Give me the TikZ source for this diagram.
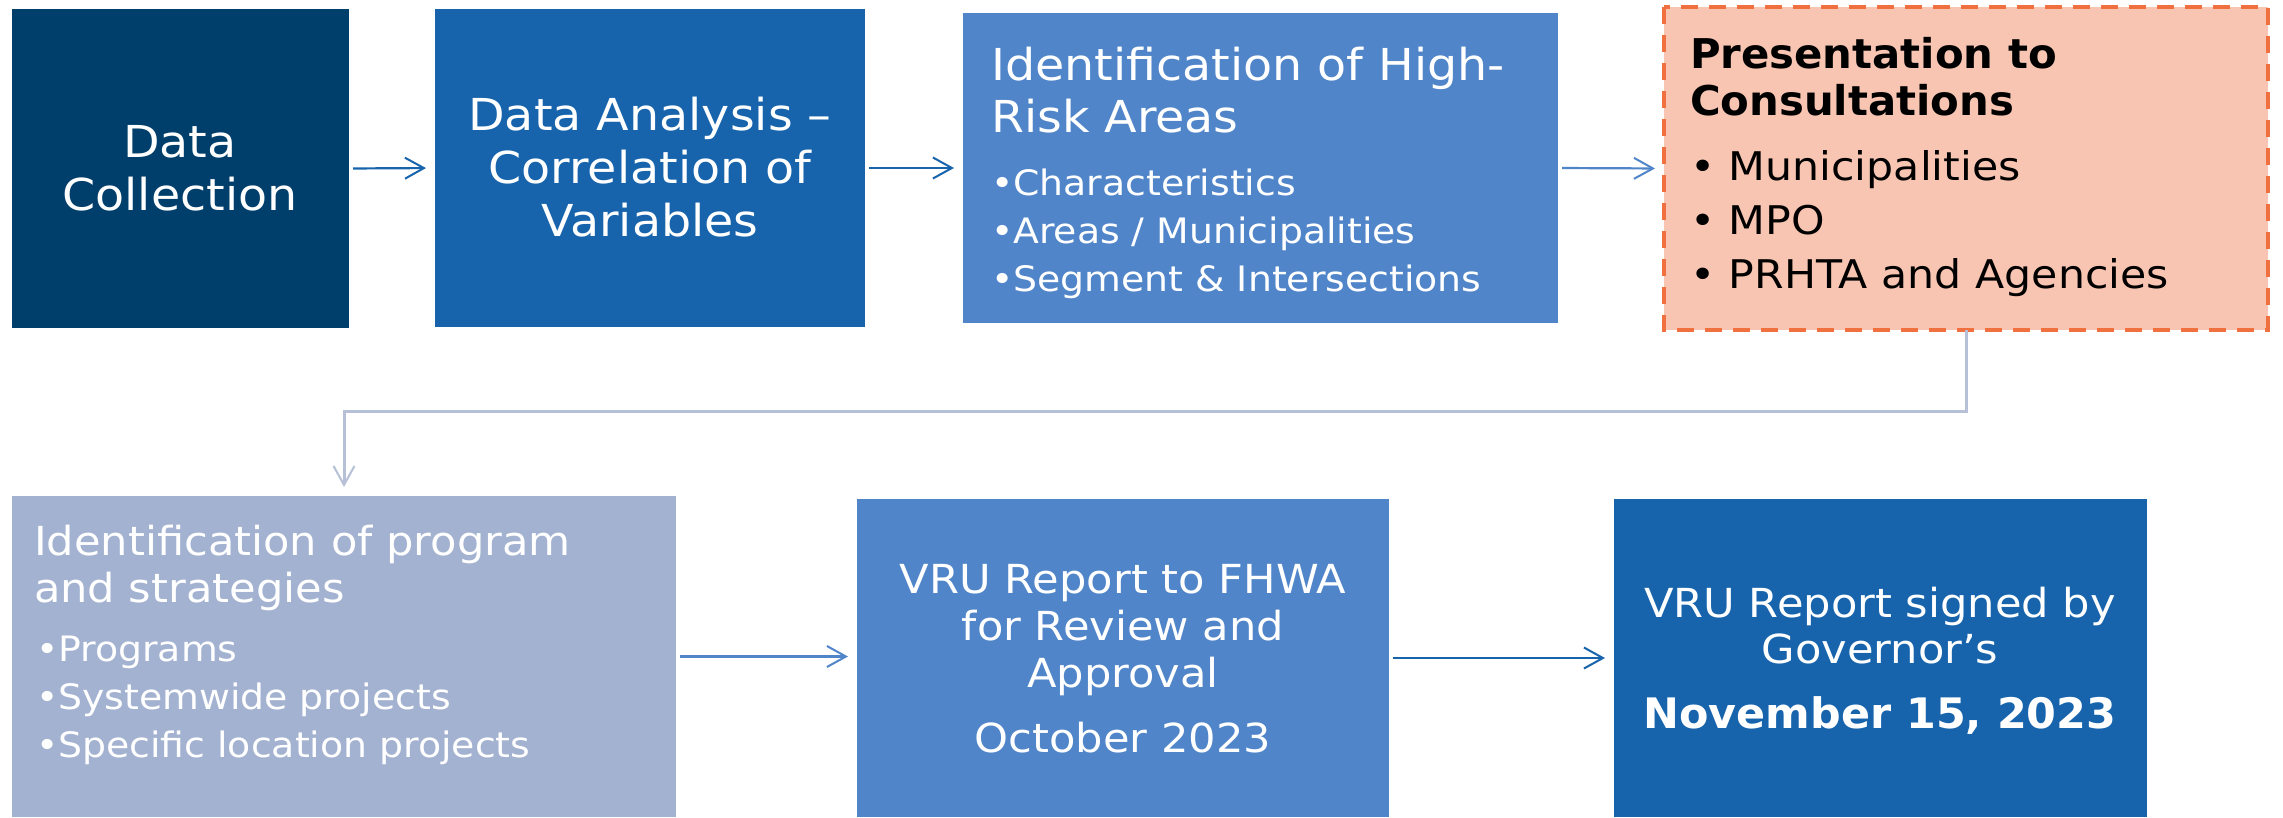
\documentclass[tikz,border=0pt]{standalone}
\usepackage{fontspec}
\setmainfont{DejaVu Sans}[FakeStretch=1.08, BoldFeatures={FakeStretch=1.02}]
\usetikzlibrary{arrows.meta}
\definecolor{navy}{RGB}{0,63,107}
\definecolor{mblue}{RGB}{23,100,173}
\definecolor{lblue}{RGB}{80,133,201}
\definecolor{peach}{RGB}{248,197,179}
\definecolor{orng}{RGB}{240,112,64}
\definecolor{grayblue}{RGB}{163,178,208}
\definecolor{conn}{RGB}{182,192,214}
\tikzset{
  box/.style={draw=none, anchor=north west, inner sep=0pt, outer sep=0pt},
  wtxt/.style={text=white, inner sep=0pt, outer sep=0pt},
  btxt/.style={text=black, inner sep=0pt, outer sep=0pt},
  arr/.style={-{Straight Barb[length=19pt,width=21pt,line width=2pt]}, line width=2.2pt, shorten <=4pt, shorten >=9pt},
}
\begin{document}
\begin{tikzpicture}[x=1pt,y=-1pt]
\useasboundingbox (0,0) rectangle (2283,817);
\fill[white] (0,0) rectangle (2283,817);
% boxes
\node[box, fill=navy, minimum width=337pt, minimum height=319pt] (b1) at (12,9) {};
\node[box, fill=mblue, minimum width=430pt, minimum height=318pt] (b2) at (435,9) {};
\node[box, fill=lblue, minimum width=595pt, minimum height=310pt] (b3) at (963,13) {};
\node[box, fill=peach, minimum width=604pt, minimum height=323pt] (b4) at (1664,7) {};
\draw[orng, line width=4pt, dash pattern=on 17pt off 11pt] (b4.north west) rectangle (b4.south east);
\node[box, fill=grayblue, minimum width=664pt, minimum height=321pt] (b5) at (12,496) {};
\node[box, fill=lblue, minimum width=532pt, minimum height=318pt] (b6) at (857,499) {};
\node[box, fill=mblue, minimum width=533pt, minimum height=318pt] (b7) at (1614,499) {};
% texts (base anchor = baseline of last line)
\node[wtxt, anchor=base, align=center, font=\fontsize{44}{53}\selectfont] (t1) at (180,210) {Data\\Collection};
\node[wtxt, anchor=base, align=center, font=\fontsize{44}{53}\selectfont] (t2) at (650,236) {Data Analysis –\\Correlation of\\Variables};
\node[wtxt, anchor=base west, align=left, font=\fontsize{44}{52}\selectfont] (t3a) at (991,132) {Identification of High-\\Risk Areas};
\node[wtxt, anchor=base west, align=left, font=\fontsize{35}{48}\selectfont] (t3b) at (991,291) {•Characteristics\\•Areas / Municipalities\\•Segment \& Intersections};
\node[btxt, anchor=base west, align=left, font=\fontsize{41}{47}\selectfont\bfseries] (t4a) at (1690,115) {Presentation to\\Consultations};
\node[btxt, anchor=base west, align=left, font=\fontsize{39.5}{54}\selectfont] (t4b) at (1690,288) {• Municipalities\\• MPO\\• PRHTA and Agencies};
\node[wtxt, anchor=base west, align=left, font=\fontsize{40}{47}\selectfont] (t5a) at (34,602) {Identification of program\\and strategies};
\node[wtxt, anchor=base west, align=left, font=\fontsize{35}{48}\selectfont] (t5b) at (36,757) {•Programs\\•Systemwide projects\\•Specific location projects};
\node[wtxt, anchor=base, align=center, font=\fontsize{40}{47}\selectfont] (t6a) at (1123,687) {VRU Report to FHWA\\for Review and\\Approval};
\node[wtxt, anchor=base, align=center, font=\fontsize{40}{47}\selectfont] (t6b) at (1123,752) {October 2023};
\node[wtxt, anchor=base, align=center, font=\fontsize{40}{46}\selectfont] (t7a) at (1880,663) {VRU Report signed by\\Governor’s};
\node[wtxt, anchor=base, align=center, font=\fontsize{42}{50}\selectfont\bfseries] (t7b) at (1880,728) {November 15, 2023};
% connectors
\coordinate (mid) at (0,411);
\draw[arr, mblue] (b1.east) -- (b2.west);
\draw[arr, mblue] (b2.east) -- (b3.west);
\draw[arr, lblue] (b3.east) -- (b4.west);
\draw[arr, conn, line width=3pt, shorten <=0pt] (b4.south) -- (b4.south |- mid) -| (b5.north);
\draw[arr, lblue] (b5.east) -- (b5.east -| b6.west);
\draw[arr, mblue] (b6.east) -- (b6.east -| b7.west);
\end{tikzpicture}
\end{document}
